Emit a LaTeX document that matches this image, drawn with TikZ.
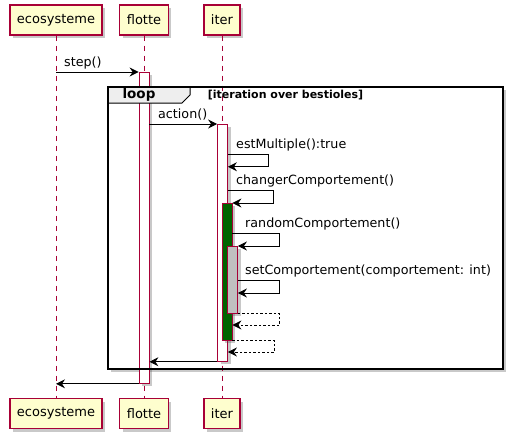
\documentclass[tikz,border=0pt]{standalone}
\usepackage{fontspec}
\setmainfont{DejaVu Sans}
\usetikzlibrary{arrows.meta,shadows}
\definecolor{umlred}{HTML}{A80036}
\definecolor{umlyellow}{HTML}{FEFECE}
\definecolor{actgreen}{HTML}{006400}
\definecolor{actgray}{HTML}{C0C0C0}
\definecolor{tabgray}{HTML}{EEEEEE}

\tikzset{
  umlshadow/.style={drop shadow={shadow xshift=3pt,shadow yshift=-3pt,opacity=.3,fill=black!70}},
  participant/.style={draw=umlred,fill=umlyellow,line width=1.2pt,minimum height=30pt,
    inner xsep=7pt,font=\fontsize{13}{15}\selectfont,umlshadow},
  lifeline/.style={draw=umlred,dash pattern=on 5pt off 5pt,line width=.8pt},
  activ/.style={draw=umlred,fill=white,line width=.8pt,minimum width=10pt,anchor=north,
    inner sep=0pt,umlshadow},
  msg/.style={-{Stealth[length=9pt,width=9pt,inset=3pt]},line width=.9pt},
  ret/.style={msg,dash pattern=on 2.5pt off 2pt},
  lbl/.style={anchor=base west,font=\fontsize{12.7}{14}\selectfont,inner sep=0pt},
}

\begin{document}
\begin{tikzpicture}[x=1pt,y=-1pt]
        \useasboundingbox (0,0) rectangle (517,442);
        % loop frame background
        \path[fill=white,umlshadow] (108,87) rectangle (503,369);
        % participants, top and bottom
        \node[participant] (eco)  at (56,20)    {ecosysteme};
        \node[participant] (flo)  at (144,20)   {flotte};
        \node[participant] (itr)  at (222,20)   {iter};
        \node[participant] (eco2) at (56,413.5)  {ecosysteme};
        \node[participant] (flo2) at (144,413.5) {flotte};
        \node[participant] (itr2) at (222,413.5) {iter};
        \foreach \p in {eco,flo,itr}
          \draw[lifeline] (\p.south) -- (\p2.north);
        % activations
        \node[activ,minimum height=311pt] (actF) at (144,72) {};
        \node[activ,minimum height=237pt] (actI) at (222.5,124) {};
        \node[activ,minimum height=137pt,fill=actgreen] (actG) at (227,203) {};
        \node[activ,minimum height=67pt,fill=actgray] (actS) at (232.5,246) {};
        % calls
        \draw[msg] (eco |- actF.north) -- (actF.north west);
        \node[lbl] (lstep) at (64,66) {step()};
        \draw[msg] (actF.east |- actI.north) -- (actI.north west);
        \node[lbl] (laction) at (158,118) {action()};
        \draw[msg] (actI.east |- 0,154) -- ++(41,0) |- (actI.east |- 0,166.7);
        \node[lbl] (lest) at (236,148) {estMultiple():true};
        \draw[msg] (actI.east |- 0,190) -- ++(46,0) |- (actG.north east);
        \node[lbl] (lchg) at (236,184) {changerComportement()};
        \draw[msg] (actG.east |- 0,233) -- ++(47,0) |- (actS.north east);
        \node[lbl] (lrnd) at (245,227) {randomComportement()};
        \draw[msg] (actS.east |- 0,280) -- ++(42,0) |- (actS.east |- 0,293);
        \node[lbl] (lset) at (245,274) {setComportement(comportement: int)};
        % returns
        \draw[ret] (actS.south east) -- ++(42,0) |- (actG.east |- 0,325);
        \draw[ret] (actG.south east) -- ++(42,0) |- (actI.east |- 0,352);
        \draw[msg] (actI.south west) -- (actF.east |- actI.south);
        \draw[msg] (actF.south west) -- (eco |- actF.south);
        % loop frame
        \draw[fill=tabgray,line width=1pt]
            (108,87) -- (190,87) -- (190,95) -- (182,103) -- (108,103) -- cycle;
        \draw[line width=2pt] (108,87) rectangle (503,369);
        \node[font=\fontsize{13.5}{15}\selectfont\bfseries] (looptag) at (139,95) {loop};
        \node[font=\fontsize{11}{13}\selectfont\bfseries] (loopcond) at (285.5,95)
            {[iteration over bestioles]};
      \end{tikzpicture}
\end{document}
